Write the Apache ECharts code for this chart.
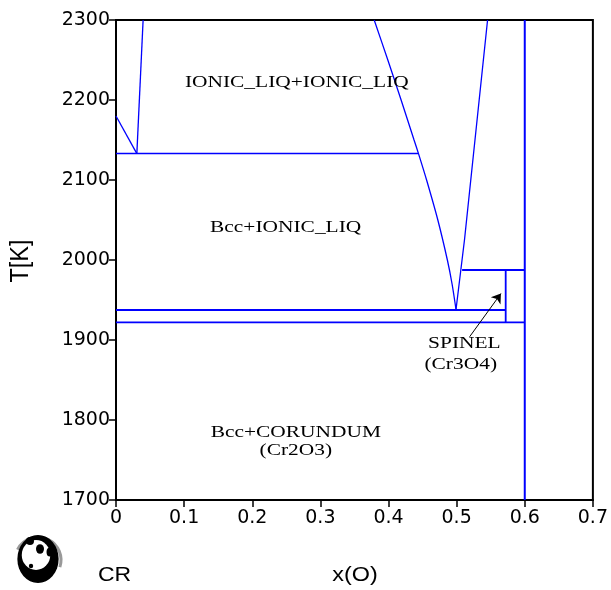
<!DOCTYPE html>
<html><head><meta charset="utf-8">
<script src="https://cdn.jsdelivr.net/npm/echarts@6/dist/echarts.min.js"></script>
<style>html,body{margin:0;padding:0;background:#fff}#c{width:611px;height:590px}</style>
</head><body><div id="c"></div><script>
// ---- data (x = mole fraction O, T in K) ----
const xTickLabels = ['0','0.1','0.2','0.3','0.4','0.5','0.6','0.7'];
const yTickLabels = ['1700','1800','1900','2000','2100','2200','2300'];
const xAxisTitle = 'x(O)';
const yAxisTitle = 'T[K]';
const componentLabel = 'CR';

const liqSolvusLeft   = [[0, 2180], [0.0306, 2133]];
const liqBoundaryLeft = [[0.0306, 2133], [0.0398, 2300]];
const monotectic      = [[0, 2133], [0.444, 2133]];
const liquidusMetal   = [[0.379, 2300], [0.399, 2250], [0.4185, 2200], [0.4375, 2150], [0.444, 2133],
                         [0.4559, 2100], [0.4724, 2050], [0.4864, 2000], [0.4933, 1970], [0.4992, 1937.5]];
const liquidusOxide   = [[0.5454, 2300], [0.5115, 2025], [0.499, 1937.5]];
const spinelTop       = [[0.508, 1987.5], [0.600, 1987.5]];
const spinelSide      = [[0.572, 1987.5], [0.572, 1922]];
const eutectic        = [[0, 1937.5], [0.572, 1937.5]];
const eutectoid       = [[0, 1922], [0.600, 1922]];
const corundumLine    = [[0.600, 1700], [0.600, 2300]];
const arrowLine       = [[0.519, 1904], [0.565, 1958]];

const phaseLabels = [
  {text: 'IONIC_LIQ+IONIC_LIQ', x: 0.2654, y: 2222},
  {text: 'Bcc+IONIC_LIQ',       x: 0.249,  y: 2040},
  {text: 'SPINEL',              x: 0.5114, y: 1895},
  {text: '(Cr3O4)',             x: 0.506,  y: 1869},
  {text: 'Bcc+CORUNDUM',        x: 0.264,  y: 1784},
  {text: '(Cr2O3)',             x: 0.264,  y: 1762}
];

// ---- chart ----
const chart = echarts.init(document.getElementById('c'));
const BLUE = '#0000ff';
function boundary(data, w, smooth) {
  return {type: 'line', data: data, showSymbol: false, symbol: 'none', silent: true,
          smooth: smooth || false,
          lineStyle: {color: BLUE, width: w || 1.4}, animation: false, z: 3};
}
const sansFont = 'DejaVu Sans';

chart.setOption({
  animation: false,
  backgroundColor: '#fff',
  grid: {left: 116, right: 15, top: 20, bottom: 90, show: true, borderColor: '#000', borderWidth: 2},
  xAxis: {
    type: 'value', min: 0, max: 0.7, interval: 0.1,
    axisLine: {show: true, onZero: false, lineStyle: {color: '#000', width: 2}},
    axisTick: {show: true, length: 7, lineStyle: {color: '#000', width: 1.5}},
    axisLabel: {color: '#000', fontSize: 19, fontFamily: sansFont, margin: 9,
                formatter: v => xTickLabels[Math.round(v * 10)]},
    splitLine: {show: false}
  },
  yAxis: {
    type: 'value', min: 1700, max: 2300, interval: 100,
    axisLine: {show: true, onZero: false, lineStyle: {color: '#000', width: 2}},
    axisTick: {show: true, length: 7, lineStyle: {color: '#000', width: 1.5}},
    axisLabel: {color: '#000', fontSize: 19, fontFamily: sansFont, margin: 6,
                formatter: v => yTickLabels[Math.round((v - 1700) / 100)]},
    splitLine: {show: false}
  },
  series: [
    boundary(liqSolvusLeft, 1.3),
    boundary(liqBoundaryLeft, 1.3),
    boundary(monotectic, 1.5),
    boundary(liquidusMetal, 1.3, 0.25),
    boundary(liquidusOxide, 1.3),
    boundary(spinelTop, 1.8),
    boundary(spinelSide, 1.8),
    boundary(eutectic, 1.8),
    boundary(eutectoid, 1.8),
    boundary(corundumLine, 2),
    {type: 'lines', coordinateSystem: 'cartesian2d', silent: true, z: 5,
     symbol: ['none', 'arrow'], symbolSize: 9,
     lineStyle: {color: '#000', width: 1, opacity: 1},
     data: [{coords: arrowLine}]}
  ]
});

// phase labels as stretched serif text, anchored in data coordinates
const labelEls = phaseLabels.map(l => {
  const p = chart.convertToPixel({gridIndex: 0}, [l.x, l.y]);
  return {type: 'text', x: p[0], y: p[1], scaleX: 1.26, silent: true, z: 10,
          style: {text: l.text, fill: '#000', font: '17px "Liberation Serif"',
                  textAlign: 'center', textVerticalAlign: 'middle'}};
});

// axis titles, "CR" component label and a small panda logo
const extra = [
  {type: 'text', x: 355, y: 576, scaleX: 1.2, silent: true,
   style: {text: xAxisTitle, fill: '#000', font: '19.5px "Liberation Sans"', textAlign: 'center', textVerticalAlign: 'middle'}},
  {type: 'text', x: 21, y: 261, rotation: Math.PI / 2, scaleX: 1.12, scaleY: 1.26, silent: true,
   style: {text: yAxisTitle, fill: '#000', font: '21px "Liberation Sans"', textAlign: 'center', textVerticalAlign: 'middle'}},
  {type: 'text', x: 98, y: 576, scaleX: 1.18, silent: true,
   style: {text: componentLabel, fill: '#000', font: '19.5px "Liberation Sans"', textAlign: 'left', textVerticalAlign: 'middle'}},
  {type: 'group', x: 0, y: 0, silent: true, children: [
    {type: 'arc', shape: {cx: 38, cy: 560, r: 23, startAngle: -Math.PI * 0.85, endAngle: Math.PI * 0.1},
     style: {stroke: '#999', lineWidth: 3, fill: null}},
    {type: 'circle', x: 38, y: 559, scaleX: 0.86, shape: {cx: 0, cy: 0, r: 24}, style: {fill: '#000'}},
    {type: 'circle', x: 36, y: 555, scaleX: 0.95, shape: {cx: 0, cy: 0, r: 15}, style: {fill: '#fff'}},
    {type: 'circle', x: 30, y: 541, shape: {cx: 0, cy: 0, r: 4}, style: {fill: '#000'}},
    {type: 'circle', x: 40, y: 549, scaleY: 1.2, shape: {cx: 0, cy: 0, r: 4}, style: {fill: '#000'}},
    {type: 'circle', x: 50, y: 552, scaleY: 1.3, shape: {cx: 0, cy: 0, r: 3.5}, style: {fill: '#000'}},
    {type: 'circle', x: 31, y: 566, shape: {cx: 0, cy: 0, r: 2.2}, style: {fill: '#000'}}
  ]}
];

chart.setOption({graphic: {elements: labelEls.concat(extra)}});
</script></body></html>
